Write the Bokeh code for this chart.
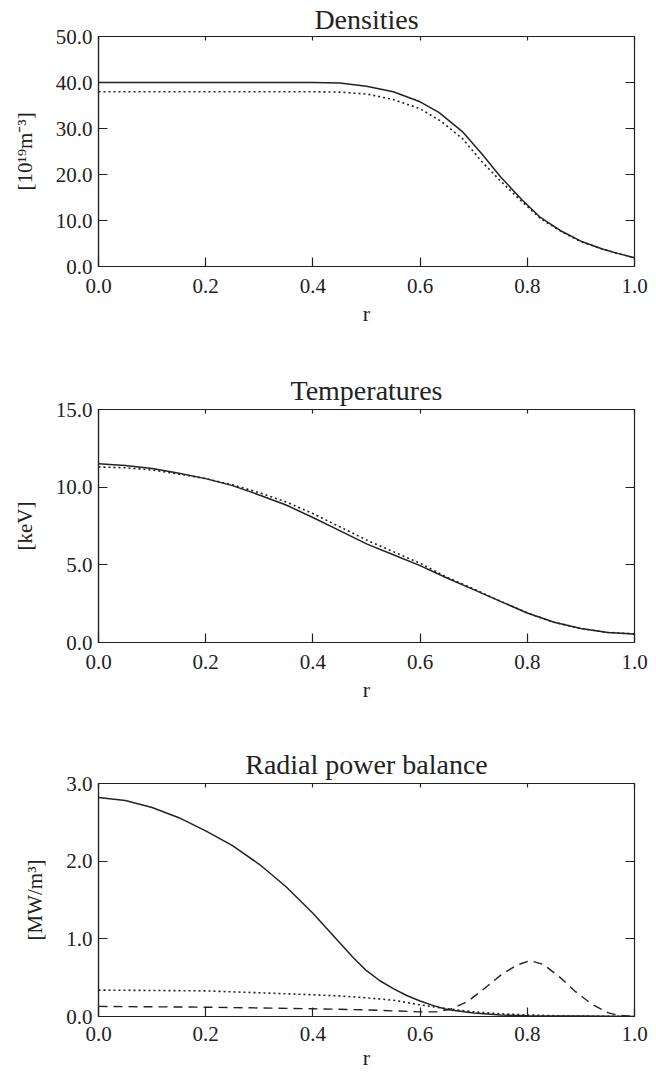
from bokeh.plotting import figure
from bokeh.models import LinearAxis, Range1d, PrintfTickFormatter, FixedTicker
from bokeh.layouts import column
from bokeh.embed import file_html
from bokeh.resources import INLINE

# ---------------- data ----------------
x_ticks = [0.0, 0.2, 0.4, 0.6, 0.8, 1.0]

# Densities
dens_r_e = [0.0, 0.1, 0.2, 0.3, 0.4, 0.45, 0.5, 0.55, 0.6, 0.635, 0.68, 0.715, 0.75, 0.79, 0.825, 0.865, 0.9, 0.94, 0.97, 1.0]
dens_e = [40.0, 40.0, 40.0, 40.0, 40.0, 39.9, 39.2, 38.0, 35.8, 33.5, 29.2, 24.5, 19.5, 14.5, 10.6, 7.6, 5.5, 3.8, 2.8, 1.9]
dens_r_i = [0.0, 0.1, 0.2, 0.3, 0.4, 0.45, 0.5, 0.55, 0.6, 0.64, 0.68, 0.715, 0.75, 0.79, 0.825, 0.865, 0.9, 0.94, 0.97, 1.0]
dens_i = [38.0, 38.0, 38.0, 38.0, 38.0, 37.9, 37.5, 36.3, 34.3, 31.5, 27.7, 22.8, 18.6, 14.1, 10.4, 7.5, 5.4, 3.8, 2.8, 1.9]
dens_yticks = [0, 10, 20, 30, 40, 50]

# Temperatures
temp_r = [0.0, 0.05, 0.1, 0.15, 0.2, 0.25, 0.3, 0.35, 0.4, 0.45, 0.5, 0.55, 0.6, 0.65, 0.7, 0.75, 0.8, 0.85, 0.9, 0.95, 1.0]
temp_e = [11.5, 11.4, 11.2, 10.9, 10.55, 10.1, 9.5, 8.85, 8.05, 7.2, 6.35, 5.65, 4.95, 4.15, 3.4, 2.65, 1.9, 1.3, 0.9, 0.65, 0.55]
temp_i = [11.3, 11.25, 11.1, 10.85, 10.55, 10.15, 9.65, 9.05, 8.3, 7.45, 6.6, 5.85, 5.1, 4.2, 3.45, 2.65, 1.9, 1.3, 0.9, 0.65, 0.55]
temp_yticks = [0, 5, 10, 15]

# Radial power balance
pow_r_a = [0.0, 0.05, 0.1, 0.15, 0.2, 0.25, 0.3, 0.35, 0.4, 0.425, 0.45, 0.475, 0.5, 0.525, 0.55, 0.575, 0.6, 0.625, 0.65, 0.7, 0.75, 0.8, 0.9, 1.0]
pow_a = [2.82, 2.78, 2.69, 2.56, 2.39, 2.20, 1.96, 1.67, 1.33, 1.14, 0.95, 0.76, 0.59, 0.46, 0.36, 0.27, 0.20, 0.14, 0.09, 0.045, 0.02, 0.01, 0.005, 0.0]
pow_r_b = [0.0, 0.1, 0.2, 0.3, 0.4, 0.45, 0.5, 0.55, 0.6, 0.65, 0.7, 0.75, 0.8, 0.85, 0.9, 1.0]
pow_b = [0.34, 0.335, 0.33, 0.305, 0.28, 0.265, 0.24, 0.21, 0.15, 0.10, 0.06, 0.035, 0.02, 0.01, 0.005, 0.0]
pow_r_c = [0.0, 0.1, 0.2, 0.3, 0.4, 0.5, 0.6, 0.63, 0.66, 0.69, 0.72, 0.75, 0.78, 0.805, 0.83, 0.86, 0.89, 0.92, 0.95, 0.97, 1.0]
pow_c = [0.13, 0.125, 0.12, 0.11, 0.10, 0.085, 0.06, 0.06, 0.10, 0.20, 0.36, 0.53, 0.66, 0.72, 0.67, 0.51, 0.32, 0.16, 0.05, 0.015, 0.0]
pow_yticks = [0, 1, 2, 3]

FONT = "Liberation Serif"
INK = "#222222"
W = 648


def make_panel(title, ylabel, ymax, yticks, height, btop, bbottom,
               title_standoff=8, xlab_standoff=12, xaxis_standoff=5):
    p = figure(width=W, height=height, x_range=Range1d(0, 1), y_range=Range1d(0, ymax),
               output_backend="svg", toolbar_location=None,
               min_border_left=98, min_border_right=14,
               min_border_top=btop, min_border_bottom=bbottom)
    p.title.text = title
    p.title.align = "center"
    p.title.text_font = FONT
    p.title.text_font_size = "28px"
    p.title.text_font_style = "normal"
    p.title.text_color = INK
    p.title.standoff = title_standoff
    p.grid.visible = False
    p.outline_line_color = INK
    p.outline_line_width = 1.2
    p.background_fill_color = "white"
    p.border_fill_color = "white"

    for ax in (p.xaxis[0], p.yaxis[0]):
        ax.major_tick_in = 9
        ax.major_tick_out = 0
        ax.minor_tick_in = 0
        ax.minor_tick_out = 0
        ax.axis_line_color = INK
        ax.axis_line_width = 1.2
        ax.major_tick_line_color = INK
        ax.major_tick_line_width = 1.2
        ax.major_label_text_font = FONT
        ax.major_label_text_font_size = "21px"
        ax.major_label_text_color = INK
        ax.axis_label_text_font = FONT
        ax.axis_label_text_font_style = "normal"
        ax.axis_label_text_color = INK
        ax.formatter = PrintfTickFormatter(format="%.1f")

    p.xaxis.ticker = FixedTicker(ticks=x_ticks)
    p.xaxis.axis_label = "r"
    p.xaxis.axis_label_text_font_size = "22px"
    p.xaxis.axis_label_standoff = xaxis_standoff
    p.xaxis.major_label_standoff = xlab_standoff

    p.yaxis.ticker = FixedTicker(ticks=yticks)
    p.yaxis.axis_label = ylabel
    p.yaxis.axis_label_text_font_size = "21px"
    p.yaxis.axis_label_standoff = 16
    p.yaxis.major_label_standoff = 6

    top = LinearAxis(ticker=FixedTicker(ticks=x_ticks), major_tick_in=4, major_tick_out=0,
                     minor_tick_in=0, minor_tick_out=0,
                     major_label_overrides={t: "" for t in x_ticks},
                     major_label_standoff=0, axis_line_color=INK, major_tick_line_color=INK,
                     major_tick_line_width=1.2)
    right = LinearAxis(ticker=FixedTicker(ticks=yticks), major_tick_in=9, major_tick_out=0,
                       minor_tick_in=0, minor_tick_out=0,
                       major_label_overrides={t: "" for t in yticks},
                       major_label_standoff=0, axis_line_color=INK, major_tick_line_color=INK,
                       major_tick_line_width=1.2)
    p.add_layout(top, "above")
    p.add_layout(right, "right")
    return p


p1 = make_panel("Densities", "[10\u00b9\u2079m\u207b\u00b3]", 50, dens_yticks, 367, 35, 101,
                title_standoff=3)
p1.line(dens_r_e, dens_e, line_color=INK, line_width=1.5)
p1.line(dens_r_i, dens_i, line_color=INK, line_width=1.6, line_dash="2 3")

p2 = make_panel("Temperatures", "[keV]", 15, temp_yticks, 374, 42, 99)
p2.line(temp_r, temp_e, line_color=INK, line_width=1.5)
p2.line(temp_r, temp_i, line_color=INK, line_width=1.6, line_dash="2 3")

p3 = make_panel("Radial power balance", "[MW/m\u00b3]", 3, pow_yticks, 331, 42, 56,
                xlab_standoff=10, xaxis_standoff=1)
p3.line(pow_r_a, pow_a, line_color=INK, line_width=1.5)
p3.line(pow_r_b, pow_b, line_color=INK, line_width=1.6, line_dash="2 3")
p3.line(pow_r_c, pow_c, line_color=INK, line_width=1.4, line_dash="9 6")

layout = column(p1, p2, p3, spacing=0)
open("out.html", "w").write(file_html(layout, INLINE))
